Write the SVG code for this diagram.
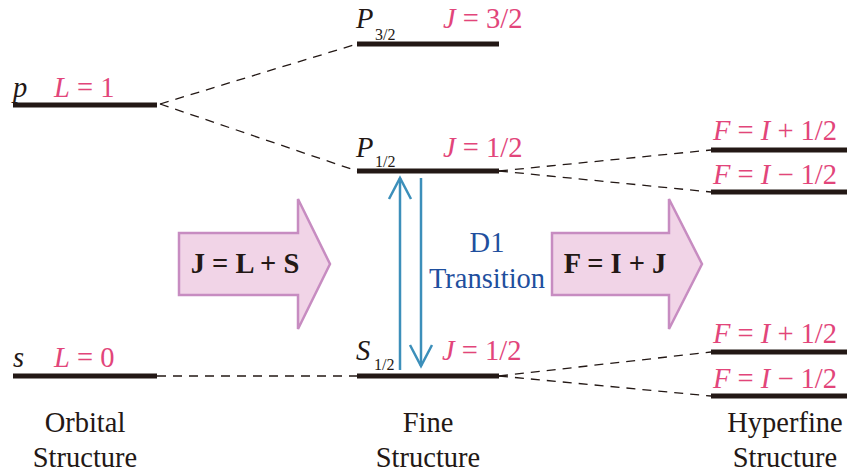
<svg xmlns="http://www.w3.org/2000/svg" width="847" height="474" viewBox="0 0 847 474">
<style>
.lv{stroke:#231815;stroke-width:5;fill:none}
.ds{stroke:#231815;stroke-width:1.3;stroke-dasharray:9 7;fill:none}
.t{font-family:"Liberation Serif","Times New Roman",serif;font-size:28.5px}
.pk{fill:#e2457a}
.bk{fill:#231815}
.sub{font-size:16px}
.big{fill:#f1d4e7;stroke:#c78cc1;stroke-width:2.5}
.bl{stroke:#3c8fba;stroke-width:2.5;fill:none}
.blt{fill:#1f4f9e}
.cap{font-size:28.5px;fill:#231815;text-anchor:middle}
</style>
<g id="connectors">
<line class="ds" x1="160" y1="104" x2="357" y2="44"/>
<line class="ds" x1="160" y1="104" x2="357" y2="171"/>
<line class="ds" x1="157" y1="376" x2="357" y2="376"/>
<line class="ds" x1="499" y1="171" x2="711" y2="150"/>
<line class="ds" x1="499" y1="171" x2="711" y2="192"/>
<line class="ds" x1="499" y1="376" x2="711" y2="352"/>
<line class="ds" x1="499" y1="376" x2="711" y2="396"/>
</g>
<g id="p-level">
<line class="lv" x1="13" y1="105" x2="157" y2="105"/>
<text class="t bk" x="13" y="97" font-style="italic">p</text>
<text class="t pk" x="54" y="97"><tspan font-style="italic">L</tspan> = 1</text>
</g>
<g id="s-level">
<line class="lv" x1="13" y1="376" x2="157" y2="376"/>
<text class="t bk" x="13" y="367" font-style="italic">s</text>
<text class="t pk" x="54" y="367"><tspan font-style="italic">L</tspan> = 0</text>
</g>
<g id="P32-level">
<line class="lv" x1="357" y1="44" x2="499" y2="44"/>
<text class="t bk" x="356" y="28" font-style="italic">P</text>
<text class="t bk sub" x="375" y="40">3/2</text>
<text class="t pk" x="443" y="28"><tspan font-style="italic">J</tspan> = 3/2</text>
</g>
<g id="P12-level">
<line class="lv" x1="357" y1="171" x2="499" y2="171"/>
<text class="t bk" x="356" y="157" font-style="italic">P</text>
<text class="t bk sub" x="375" y="167">1/2</text>
<text class="t pk" x="443" y="157"><tspan font-style="italic">J</tspan> = 1/2</text>
</g>
<g id="S12-level">
<line class="lv" x1="357" y1="376" x2="499" y2="376"/>
<text class="t bk" x="356" y="360" font-style="italic">S</text>
<text class="t bk sub" x="374" y="370">1/2</text>
<text class="t pk" x="442" y="360"><tspan font-style="italic">J</tspan> = 1/2</text>
</g>
<g id="hf-upper-plus">
<line class="lv" x1="711" y1="150" x2="847" y2="150"/>
<text class="t pk" x="713" y="140"><tspan font-style="italic">F</tspan> = <tspan font-style="italic">I</tspan> + 1/2</text>
</g>
<g id="hf-upper-minus">
<line class="lv" x1="711" y1="192" x2="847" y2="192"/>
<text class="t pk" x="713" y="184"><tspan font-style="italic">F</tspan> = <tspan font-style="italic">I</tspan> − 1/2</text>
</g>
<g id="hf-lower-plus">
<line class="lv" x1="711" y1="352" x2="847" y2="352"/>
<text class="t pk" x="713" y="343"><tspan font-style="italic">F</tspan> = <tspan font-style="italic">I</tspan> + 1/2</text>
</g>
<g id="hf-lower-minus">
<line class="lv" x1="711" y1="396" x2="847" y2="396"/>
<text class="t pk" x="713" y="388"><tspan font-style="italic">F</tspan> = <tspan font-style="italic">I</tspan> − 1/2</text>
</g>
<g id="arrow-JLS">
<path class="big" d="M179,233 H298 V199 L330,264 L298,329 V295 H179 Z"/>
<text class="t bk" x="245" y="273" text-anchor="middle" font-weight="bold">J = L + S</text>
</g>
<g id="arrow-FIJ">
<path class="big" d="M552,233 H669 V199 L702,264 L669,329 V295 H552 Z"/>
<text class="t bk" x="615" y="273" text-anchor="middle" font-weight="bold">F = I + J</text>
</g>
<g id="D1-transition">
<line class="bl" x1="400" y1="370" x2="400" y2="178"/>
<polyline class="bl" points="389,199 400,178 411,199"/>
<line class="bl" x1="421" y1="178" x2="421" y2="366"/>
<polyline class="bl" points="410,345 421,366 432,345"/>
<text class="t blt" x="487" y="252" text-anchor="middle">D1</text>
<text class="t blt" x="487" y="288" text-anchor="middle">Transition</text>
</g>
<g id="captions">
<text class="t cap" x="85" y="432">Orbital</text>
<text class="t cap" x="85" y="467">Structure</text>
<text class="t cap" x="428" y="432">Fine</text>
<text class="t cap" x="428" y="467">Structure</text>
<text class="t cap" x="785" y="432">Hyperfine</text>
<text class="t cap" x="785" y="467">Structure</text>
</g>
</svg>
